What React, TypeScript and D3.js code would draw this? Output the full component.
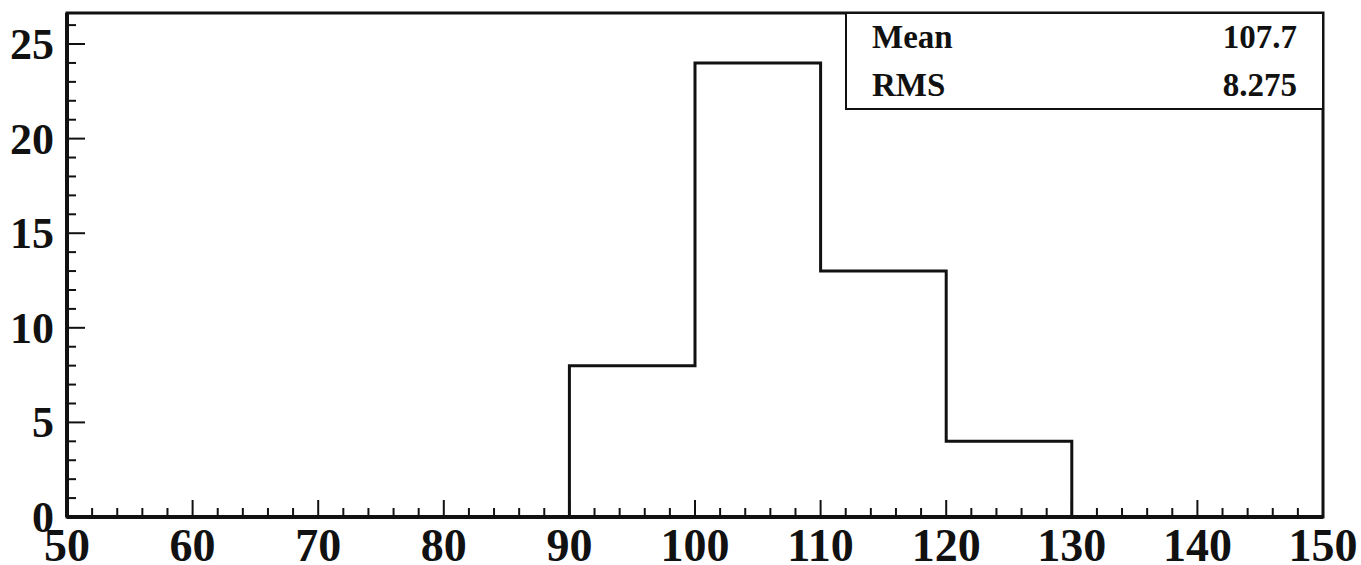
import { useEffect, useRef } from "react";
import * as d3 from "d3";

const binEdges = [90, 100, 110, 120, 130];
const binCounts = [8, 24, 13, 4];
const xMajorTicks = [50, 60, 70, 80, 90, 100, 110, 120, 130, 140, 150];
const yMajorTicks = [0, 5, 10, 15, 20, 25];
const statNames = ["Mean", "RMS"];
const statValues = ["107.7", "8.275"];

const W = 1361;
const H = 565;

export default function App() {
  const svgRef = useRef<SVGSVGElement>(null);

  useEffect(() => {
    const svg = d3.select(svgRef.current);
    svg.selectAll("*").remove();

    const left = 67, right = 1323, top = 13, bottom = 517;
    const x = d3.scaleLinear().domain([50, 150]).range([left, right]);
    const y = d3.scaleLinear().domain([0, 26.64]).range([bottom, top]);
    const font = "'Liberation Serif', 'Times New Roman', serif";

    // histogram outline
    const pts: [number, number][] = [[binEdges[0], 0]];
    binCounts.forEach((c, i) => {
      pts.push([binEdges[i], c]);
      pts.push([binEdges[i + 1], c]);
    });
    pts.push([binEdges[binEdges.length - 1], 0]);
    const line = d3.line<[number, number]>().x(d => x(d[0])).y(d => y(d[1]));
    svg.append("path")
      .attr("d", line(pts))
      .attr("fill", "none")
      .attr("stroke", "#111")
      .attr("stroke-width", 3);

    // x ticks (inside, pointing up)
    const xMinor = x.ticks(50).filter(v => !xMajorTicks.includes(v));
    svg.append("g").selectAll("line")
      .data(xMinor).enter().append("line")
      .attr("x1", d => x(d)).attr("x2", d => x(d))
      .attr("y1", bottom).attr("y2", bottom - 9)
      .attr("stroke", "#111").attr("stroke-width", 2);
    svg.append("g").selectAll("line")
      .data(xMajorTicks).enter().append("line")
      .attr("x1", d => x(d)).attr("x2", d => x(d))
      .attr("y1", bottom).attr("y2", bottom - 17)
      .attr("stroke", "#111").attr("stroke-width", 2);

    // y ticks (inside, pointing right)
    const yMinor = d3.range(0, 27).filter(v => !yMajorTicks.includes(v));
    svg.append("g").selectAll("line")
      .data(yMinor).enter().append("line")
      .attr("x1", left).attr("x2", left + 9)
      .attr("y1", d => y(d)).attr("y2", d => y(d))
      .attr("stroke", "#111").attr("stroke-width", 2);
    svg.append("g").selectAll("line")
      .data(yMajorTicks).enter().append("line")
      .attr("x1", left).attr("x2", left + 18)
      .attr("y1", d => y(d)).attr("y2", d => y(d))
      .attr("stroke", "#111").attr("stroke-width", 2);

    // frame
    svg.append("rect")
      .attr("x", left).attr("y", top)
      .attr("width", right - left).attr("height", bottom - top)
      .attr("fill", "none")
      .attr("stroke", "#111")
      .attr("stroke-width", 3);
    svg.append("line")
      .attr("x1", left).attr("x2", right)
      .attr("y1", bottom).attr("y2", bottom)
      .attr("stroke", "#111").attr("stroke-width", 4);
    svg.append("line")
      .attr("x1", left).attr("x2", left)
      .attr("y1", top).attr("y2", bottom)
      .attr("stroke", "#111").attr("stroke-width", 4);

    // tick labels
    svg.append("g").selectAll("text")
      .data(xMajorTicks).enter().append("text")
      .attr("x", d => x(d))
      .attr("y", 561)
      .attr("text-anchor", "middle")
      .attr("font-family", font)
      .attr("font-weight", "bold")
      .attr("font-size", 46)
      .attr("fill", "#111")
      .text(d => d);
    svg.append("g").selectAll("text")
      .data(yMajorTicks).enter().append("text")
      .attr("x", 54)
      .attr("y", d => y(d) + 15)
      .attr("text-anchor", "end")
      .attr("font-family", font)
      .attr("font-weight", "bold")
      .attr("font-size", 44)
      .attr("fill", "#111")
      .text(d => d);

    // stats box
    const boxLeft = 846, boxBottom = 109;
    svg.append("rect")
      .attr("x", boxLeft).attr("y", top)
      .attr("width", right - boxLeft).attr("height", boxBottom - top)
      .attr("fill", "white")
      .attr("stroke", "#111")
      .attr("stroke-width", 2);
    const rowY = d3.scaleBand<string>().domain(statNames).range([top, boxBottom]);
    const stats = svg.append("g").selectAll("g")
      .data(statNames).enter().append("g");
    stats.append("text")
      .attr("x", 872)
      .attr("y", d => (rowY(d) ?? 0) + rowY.bandwidth() / 2 + 11)
      .attr("font-family", font)
      .attr("font-weight", "bold")
      .attr("font-size", 33)
      .attr("fill", "#111")
      .text(d => d);
    stats.append("text")
      .attr("x", 1297)
      .attr("y", d => (rowY(d) ?? 0) + rowY.bandwidth() / 2 + 11)
      .attr("text-anchor", "end")
      .attr("font-family", font)
      .attr("font-weight", "bold")
      .attr("font-size", 33)
      .attr("fill", "#111")
      .text((d, i) => statValues[i]);
  }, []);

  return (
    <svg
      ref={svgRef}
      width={W}
      height={H}
      style={{ position: "absolute", left: 0, top: 0, background: "white" }}
    />
  );
}
